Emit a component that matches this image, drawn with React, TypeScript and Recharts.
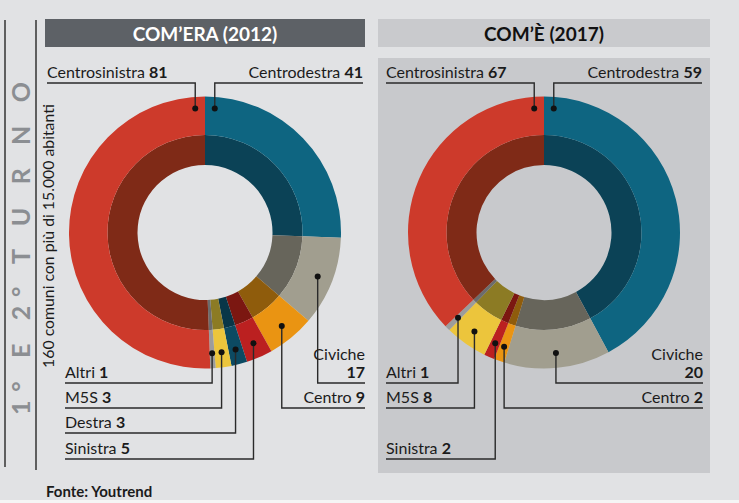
import { PieChart, Pie, Cell } from "recharts";

// slices clockwise from 12 o'clock
const parties = ["Centrodestra", "Civiche", "Centro", "Sinistra", "Destra", "M5S", "Altri", "Centrosinistra"];
const comuni2012 = [41, 17, 9, 5, 3, 3, 1, 81];
// numbers printed next to the 2017 ring
const comuni2017 = [59, 20, 2, 2, 0, 8, 1, 67];
// arcs of the 2017 ring as the source draws them (blue and red sizes are swapped vs. the printed numbers)
const arcs2017 = [67, 20, 2, 2, 0, 8, 1, 59];

const outerColors = ["#0e6581", "#a19e8f", "#ea9412", "#bb2020", "#0c4a62", "#ecc53c", "#9c9c9c", "#cd3a2b"];
const innerColors = ["#0b4256", "#67655b", "#8f5c0c", "#7b1711", "#083648", "#8c7b24", "#6c6c6c", "#7f2a17"];

const W = 739;
const H = 503;
const RAD = Math.PI / 180;
const FONT = "Lato, 'Open Sans', sans-serif";
const INK = "#1b1b1b";

type Row = { side: "L" | "R"; y: number; anchor: "start" | "mid" | "end"; wrap?: boolean };

const rows2012: Record<string, Row> = {
  Centrosinistra: { side: "L", y: 83, anchor: "end" },
  Centrodestra: { side: "R", y: 83, anchor: "start" },
  Civiche: { side: "R", y: 383, anchor: "mid", wrap: true },
  Centro: { side: "R", y: 408, anchor: "mid" },
  Altri: { side: "L", y: 383, anchor: "mid" },
  M5S: { side: "L", y: 408, anchor: "mid" },
  Destra: { side: "L", y: 433, anchor: "mid" },
  Sinistra: { side: "L", y: 459, anchor: "mid" },
};

const rows2017: Record<string, Row> = {
  Centrosinistra: { side: "L", y: 83, anchor: "end" },
  Centrodestra: { side: "R", y: 83, anchor: "start" },
  Civiche: { side: "R", y: 383, anchor: "mid", wrap: true },
  Centro: { side: "R", y: 408, anchor: "mid" },
  Altri: { side: "L", y: 383, anchor: "mid" },
  M5S: { side: "L", y: 408, anchor: "mid" },
  Sinistra: { side: "L", y: 459, anchor: "mid" },
};

type Donut = {
  cx: number;
  cy: number;
  rows: Record<string, Row>;
  edges: { topL: number; topR: number; botL: number; botR: number };
};

const donut2012: Donut = { cx: 205, cy: 232.5, rows: rows2012, edges: { topL: 47, topR: 363, botL: 65, botR: 365 } };
const donut2017: Donut = { cx: 544, cy: 232.5, rows: rows2017, edges: { topL: 386, topR: 702, botL: 386, botR: 703 } };

const build = (arcs: number[], printed: number[]) =>
  parties
    .map((name, i) => ({ name, value: arcs[i], printed: printed[i], outer: outerColors[i], inner: innerColors[i] }))
    .filter((d) => d.value > 0);

const data2012 = build(comuni2012, comuni2012);
const data2017 = build(arcs2017, comuni2017);

const makeLabel = (d: Donut) => (p: any) => {
  const row = d.rows[p.name];
  if (!row) return null;
  const a = row.anchor === "start" ? p.startAngle - 4.5 : row.anchor === "end" ? p.endAngle + 4.5 : p.midAngle;
  const r = row.anchor === "mid" ? 121 : 124.5;
  const x = p.cx + r * Math.cos(-a * RAD);
  const y = p.cy + r * Math.sin(-a * RAD);
  const top = row.y < p.cy;
  const edge = row.side === "L" ? (top ? d.edges.topL : d.edges.botL) : top ? d.edges.topR : d.edges.botR;
  const printed = p.payload?.printed ?? p.printed;
  const anchor = row.side === "L" ? "start" : "end";
  return (
    <g key={`lbl-${p.name}`}>
      <polyline points={`${x},${y} ${x},${row.y} ${edge},${row.y}`} fill="none" stroke="#2a2a2a" strokeWidth={1.4} />
      <circle cx={x} cy={y} r={3} fill="#111" />
      {row.wrap ? (
        <text x={edge} textAnchor={anchor} fontFamily={FONT} fontSize={16} fill={INK}>
          <tspan x={edge} y={row.y - 23}>{p.name}</tspan>
          <tspan x={edge} y={row.y - 5} fontWeight={700}>{printed}</tspan>
        </text>
      ) : (
        <text x={edge} y={row.y - 5} textAnchor={anchor} fontFamily={FONT} fontSize={16} fill={INK}>
          {p.name} <tspan fontWeight={700}>{printed}</tspan>
        </text>
      )}
    </g>
  );
};

function Ring({ donut, data }: { donut: Donut; data: any[] }) {
  return (
    <div style={{ position: "absolute", left: 0, top: 0 }}>
      <PieChart width={W} height={H} margin={{ top: 0, right: 0, bottom: 0, left: 0 }}>
        <Pie
          data={data}
          dataKey="value"
          nameKey="name"
          cx={donut.cx}
          cy={donut.cy}
          innerRadius={67.5}
          outerRadius={97.5}
          startAngle={90}
          endAngle={-270}
          stroke="none"
          isAnimationActive={false}
        >
          {data.map((e, i) => (
            <Cell key={i} fill={e.inner} />
          ))}
        </Pie>
        <Pie
          data={data}
          dataKey="value"
          nameKey="name"
          cx={donut.cx}
          cy={donut.cy}
          innerRadius={97.5}
          outerRadius={136}
          startAngle={90}
          endAngle={-270}
          stroke="none"
          labelLine={false}
          label={makeLabel(donut)}
          isAnimationActive={false}
        >
          {data.map((e, i) => (
            <Cell key={i} fill={e.outer} />
          ))}
        </Pie>
      </PieChart>
    </div>
  );
}

export default function App() {
  return (
    <div style={{ position: "absolute", left: 0, top: 0, width: W, height: H, background: "#e1e2e4", overflow: "hidden" }}>
      <svg width={W} height={H} style={{ position: "absolute", left: 0, top: 0 }}>
        <rect x={378} y={58} width={332} height={415} fill="#c8c9cc" />
        <rect x={45} y={19} width={320} height={28} fill="#5d6166" />
        <rect x={378} y={19} width={332} height={28} fill="#c9cacd" />
        <text x={205} y={41} textAnchor="middle" fontFamily={FONT} fontWeight={700} fontSize={19} fill="#fff">
          COM’ERA (2012)
        </text>
        <text x={544} y={41} textAnchor="middle" fontFamily={FONT} fontWeight={700} fontSize={19} fill="#111">
          COM’È (2017)
        </text>
        <line x1={5} y1={20} x2={5} y2={467} stroke="#333" strokeWidth={1.5} />
        <line x1={36} y1={20} x2={36} y2={470} stroke="#333" strokeWidth={1.5} />
        <text
          transform="translate(30,415) rotate(-90)"
          fontFamily={FONT}
          fontWeight={700}
          fontSize={25}
          fill="#8b8e92"
          textLength={333}
          lengthAdjust="spacing"
        >
          1° E 2° T U R N O
        </text>
        <text transform="translate(54,236) rotate(-90)" textAnchor="middle" fontFamily={FONT} fontSize={15.8} fill={INK}>
          160 comuni con più di 15.000 abitanti
        </text>
        <text x={46} y={497} fontFamily={FONT} fontWeight={700} fontSize={15} fill={INK}>
          Fonte: Youtrend
        </text>
        <rect x={0} y={500} width={W} height={3} fill="#f5f5f5" />
      </svg>
      <Ring donut={donut2012} data={data2012} />
      <Ring donut={donut2017} data={data2017} />
    </div>
  );
}
